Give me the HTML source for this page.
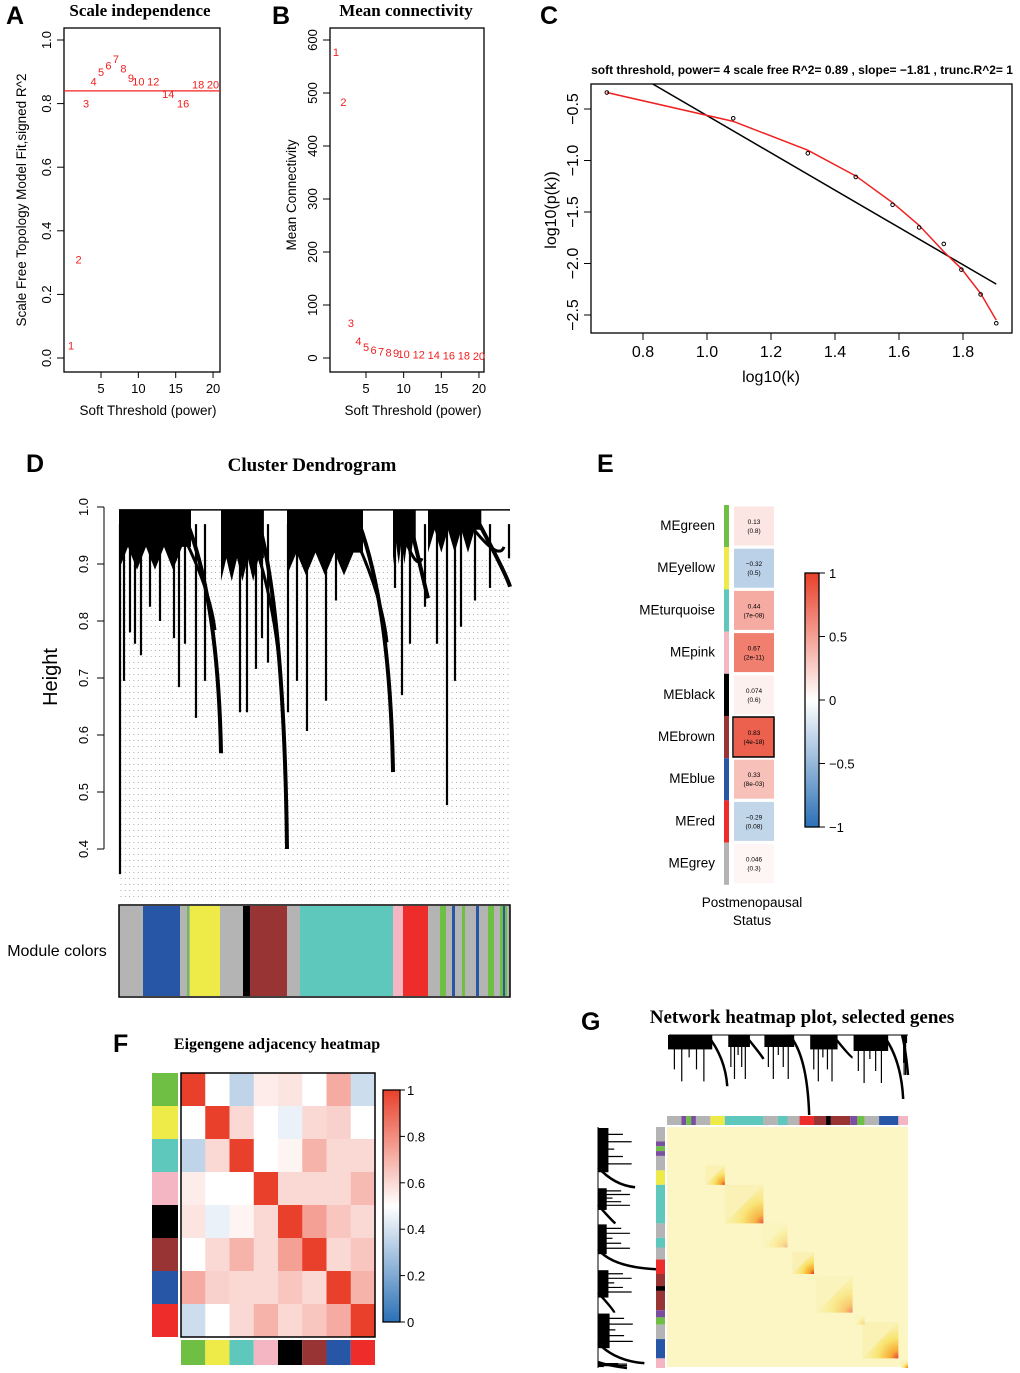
<!DOCTYPE html>
<html><head><meta charset="utf-8">
<style>
html,body{margin:0;padding:0;background:#fff;}
svg{display:block;font-family:"Liberation Sans",sans-serif;}
.ttl{font-family:"Liberation Serif",serif;font-weight:bold;}
.lt{font-weight:bold;font-size:25px;}
</style></head>
<body>
<svg id="fig" width="1020" height="1373" viewBox="0 0 1020 1373" xmlns="http://www.w3.org/2000/svg">
<defs>
<clipPath id="clipC"><rect x="591" y="84" width="421" height="249"/></clipPath>
<linearGradient id="gradE" x1="0" y1="0" x2="0" y2="1"><stop offset="0" stop-color="#e8402a"/><stop offset="0.5" stop-color="#ffffff"/><stop offset="1" stop-color="#2b70b6"/></linearGradient>
<linearGradient id="gradF" x1="0" y1="0" x2="0" y2="1"><stop offset="0" stop-color="#e8402a"/><stop offset="0.5" stop-color="#ffffff"/><stop offset="1" stop-color="#2b70b6"/></linearGradient>
<radialGradient id="gradG" cx="1" cy="1" r="1.1"><stop offset="0" stop-color="#e8201a"/><stop offset="0.2" stop-color="#f6a020"/><stop offset="0.5" stop-color="#f8e060"/><stop offset="1" stop-color="#fbf3b0" stop-opacity="0.3"/></radialGradient>
</defs>
<g id="root"></g>
</svg>
<script>
// ---- Panel A data ----
const aPowers=[1,2,3,4,5,6,7,8,9,10,12,14,16,18,20];
const aFit=[0.04,0.31,0.80,0.87,0.90,0.92,0.94,0.91,0.88,0.87,0.87,0.83,0.80,0.86,0.86];
const aCut=0.84;
const aYTicks=[0,0.2,0.4,0.6,0.8,1.0];
const aXTicks=[5,10,15,20];
// ---- Panel B data ----
const bConn=[577,483,66,32,21,15,12,10,9,8,7,6,5,5,4];
const bYTicks=[0,100,200,300,400,500,600];
// ---- Panel C data ----
const cLogK=[0.687,1.082,1.315,1.465,1.58,1.663,1.74,1.795,1.855,1.904];
const cLogP=[-0.34,-0.59,-0.93,-1.16,-1.43,-1.65,-1.81,-2.06,-2.30,-2.58];
const cFitRed=[-0.34,-0.62,-0.90,-1.15,-1.41,-1.63,-1.885,-2.05,-2.29,-2.55];
const cSlope=-1.81, cIntercept=1.246;
const cXTicks=[0.8,1.0,1.2,1.4,1.6,1.8];
const cYTicks=[-0.5,-1.0,-1.5,-2.0,-2.5];
// ---- Panel D data ----
const dYTicks=[0.4,0.5,0.6,0.7,0.8,0.9,1.0];
const dClusters=[[119,221,0.90,0.568],[221,287,0.88,0.40],[287,393,0.89,0.535],[393,428,0.91,0.84],[428,510,0.93,0.86]];
const dSpikes=[[120,0.356],[124,0.695],[130,0.78],[135,0.76],[141,0.74],[150,0.825],[160,0.80],[174,0.77],[179,0.684],[185,0.76],[196,0.63],[205,0.695],[240,0.64],[247,0.64],[256,0.716],[262,0.77],[268,0.727],[288,0.64],[297,0.695],[307,0.607],[326,0.66],[336,0.836],[395,0.858],[402,0.67],[410,0.76],[425,0.825],[437,0.76],[447,0.477],[455,0.695],[461,0.79],[475,0.836],[490,0.858],[509,0.91]];
const modCol={green:"#6fbf45",yellow:"#eeea48",turquoise:"#5ec8bd",pink:"#f4b6c2",black:"#000000",brown:"#983434",blue:"#2756a6",red:"#ee2d2a",grey:"#b4b4b4",purple:"#7b4fa0"};
const dColorSegs=[[119,143,"grey"],[143,180,"blue"],[180,190,"grey"],[187,189,"green"],[190,220,"yellow"],[220,243,"grey"],[243,250,"black"],[250,287,"brown"],[287,300,"grey"],[300,393,"turquoise"],[393,403,"pink"],[403,428,"red"],[428,510,"grey"],[440,446,"green"],[452,455,"blue"],[462,465,"green"],[476,479,"blue"],[488,494,"green"],[500,507,"green"],[503,505,"blue"]];
// ---- Panel E data ----
const eModules=["green","yellow","turquoise","pink","black","brown","blue","red","grey"];
const eCor=[0.13,-0.32,0.44,0.67,0.074,0.83,0.33,-0.29,0.046];
const eP=["(0.8)","(0.5)","(7e-08)","(2e-11)","(0.6)","(4e-18)","(8e-03)","(0.08)","(0.3)"];
const eTicks=[1,0.5,0,-0.5,-1];
// ---- Panel F data ----
const fModules=["green","yellow","turquoise","pink","black","brown","blue","red"];
const fAdj=[
[1,0.5,0.35,0.55,0.57,0.5,0.72,0.38],
[0.5,1,0.6,0.5,0.45,0.6,0.62,0.5],
[0.35,0.6,1,0.5,0.53,0.7,0.6,0.6],
[0.55,0.5,0.5,1,0.6,0.6,0.6,0.68],
[0.57,0.45,0.53,0.6,1,0.75,0.65,0.6],
[0.5,0.6,0.7,0.6,0.75,1,0.6,0.65],
[0.72,0.62,0.6,0.6,0.65,0.6,1,0.7],
[0.38,0.5,0.6,0.7,0.6,0.65,0.72,1]];
const fTicks=[1,0.8,0.6,0.4,0.2,0];
// ---- Panel G data ----
const gSegs=[[0,0.06,"grey"],[0.06,0.08,"purple"],[0.08,0.1,"green"],[0.1,0.12,"purple"],[0.12,0.18,"grey"],[0.18,0.24,"yellow"],[0.24,0.40,"turquoise"],[0.40,0.46,"grey"],[0.46,0.50,"turquoise"],[0.50,0.55,"grey"],[0.55,0.61,"red"],[0.61,0.66,"brown"],[0.66,0.68,"black"],[0.68,0.76,"brown"],[0.76,0.79,"purple"],[0.79,0.82,"green"],[0.82,0.88,"grey"],[0.88,0.96,"blue"],[0.96,1,"pink"]];
const gBlocks=[[0.16,0.24,0.9],[0.24,0.40,0.75],[0.40,0.50,0.3],[0.52,0.61,0.95],[0.62,0.77,0.5],[0.78,0.82,0.3],[0.81,0.96,0.85],[0.97,1.0,0.8]];
const gTopClusters=[[0,0.25,0.72,0.36],[0.25,0.40,0.75,0.7],[0.40,0.59,0.75,0.0],[0.59,0.77,0.72,0.72],[0.77,0.98,0.70,0.2],[0.98,1,0.8,0.5]];

const NS="http://www.w3.org/2000/svg";
const root=document.getElementById('root');
function el(tag,attrs,parent,text){const e=document.createElementNS(NS,tag);for(const k in attrs)e.setAttribute(k,attrs[k]);if(text!==undefined)e.textContent=text;(parent||root).appendChild(e);return e;}
function grp(name){const g=el('g',{});return g;}
function txt(g,x,y,s,size,opts){opts=opts||{};const a={x:x,y:y,'font-size':size,'text-anchor':opts.anchor||'middle',fill:opts.fill||'#000'};if(opts.rot!==undefined)a.transform='rotate('+opts.rot+' '+x+' '+y+')';if(opts.cls)a['class']=opts.cls;return el('text',a,g,s);}
function bwr(v){
  const r=[232,64,42],b=[43,112,182];const c=v>=0?r:b;const t=Math.min(1,Math.abs(v));
  const m=i=>Math.round(255+(c[i]-255)*t);return 'rgb('+m(0)+','+m(1)+','+m(2)+')';}

[["A",6,24],["B",272,24],["C",540,24],["D",26,472],["E",597,472],["F",113,1052],["G",581,1030]].forEach(p=>{
  const t=txt(root,p[1],p[2],p[0],25,{anchor:'start',cls:'lt'});
  });

// ---------- Panel A ----------
(function(){
  const g=grp('panel-a-scale-independence');
  const X=v=>101+(v-5)*7.47, Y=v=>358-v*318;
  el('rect',{x:64,y:28,width:156,height:344,fill:'none',stroke:'#000','stroke-width':1.3},g);
  txt(g,140,16,'Scale independence',17,{cls:'ttl'});
  aYTicks.forEach(t=>{el('line',{x1:57,y1:Y(t),x2:64,y2:Y(t),stroke:'#000'},g);txt(g,51,Y(t),t.toFixed(1),13,{rot:-90});});
  aXTicks.forEach(t=>{el('line',{x1:X(t),y1:372,x2:X(t),y2:378,stroke:'#000'},g);txt(g,X(t),393,String(t),13);});
  txt(g,148,415,'Soft Threshold (power)',13.5);
  txt(g,26,200,'Scale Free Topology Model Fit,signed R^2',13.5,{rot:-90});
  el('line',{x1:64,y1:Y(aCut),x2:220,y2:Y(aCut),stroke:'#f02020','stroke-width':1.3},g);
  aPowers.forEach((p,i)=>{const t=txt(g,X(p),Y(aFit[i])+4,String(p),11,{fill:'#f02020'});
    });
})();

// ---------- Panel B ----------
(function(){
  const g=grp('panel-b-mean-connectivity');
  const X=v=>366+(v-5)*7.53, Y=v=>358-v*0.53;
  el('rect',{x:330,y:28,width:154,height:344,fill:'none',stroke:'#000','stroke-width':1.3},g);
  txt(g,406,16,'Mean connectivity',17,{cls:'ttl'});
  bYTicks.forEach(t=>{el('line',{x1:323,y1:Y(t),x2:330,y2:Y(t),stroke:'#000'},g);txt(g,317,Y(t),String(t),13,{rot:-90});});
  aXTicks.forEach(t=>{el('line',{x1:X(t),y1:372,x2:X(t),y2:378,stroke:'#000'},g);txt(g,X(t),393,String(t),13);});
  txt(g,413,415,'Soft Threshold (power)',13.5);
  txt(g,296,195,'Mean Connectivity',13.5,{rot:-90});
  aPowers.forEach((p,i)=>{const t=txt(g,X(p),Y(bConn[i])+4,String(p),11,{fill:'#f02020'});
    });
})();

// ---------- Panel C ----------
(function(){
  const g=grp('panel-c-scale-free-fit');
  const X=v=>643+(v-0.8)*320, Y=v=>109-(v+0.5)*103;
  const tt=txt(g,802,74,'soft threshold, power= 4  scale free R^2= 0.89 , slope= \u22121.81 , trunc.R^2= 1',12);
  tt.setAttribute('font-weight','bold');
  el('rect',{x:591,y:84,width:421,height:249,fill:'none',stroke:'#000','stroke-width':1.3},g);
  cXTicks.forEach(t=>{el('line',{x1:X(t),y1:333,x2:X(t),y2:340,stroke:'#000'},g);txt(g,X(t),357,t.toFixed(1),16);});
  cYTicks.forEach(t=>{el('line',{x1:584,y1:Y(t),x2:591,y2:Y(t),stroke:'#000'},g);txt(g,578,Y(t),t.toFixed(1).replace('-','\u2212'),16,{rot:-90});});
  txt(g,771,382,'log10(k)',16);
  txt(g,556,210,'log10(p(k))',16,{rot:-90});
  const x0=0.6,x1=1.904;
  const bl=el('line',{x1:X(x0),y1:Y(cIntercept+cSlope*x0),x2:X(x1),y2:Y(cIntercept+cSlope*x1),stroke:'#000','stroke-width':1.5,'clip-path':'url(#clipC)'},g);
  
  const pl=el('polyline',{points:cLogK.map((k,i)=>X(k)+','+Y(cFitRed[i])).join(' '),fill:'none',stroke:'#f02020','stroke-width':1.5},g);
  
  cLogK.forEach((k,i)=>{const c=el('circle',{cx:X(k),cy:Y(cLogP[i]),r:1.8,fill:'none',stroke:'#000','stroke-width':1},g);
    });
})();

// ---------- Panel D ----------
(function(){
  const g=grp('panel-d-cluster-dendrogram');
  const Y=h=>507+(1-h)*570;
  txt(g,312,471,'Cluster Dendrogram',19,{cls:'ttl'});
  el('line',{x1:104,y1:Y(1),x2:104,y2:Y(0.4),stroke:'#000'},g);
  dYTicks.forEach(t=>{el('line',{x1:97,y1:Y(t),x2:104,y2:Y(t),stroke:'#000'},g);txt(g,88,Y(t),t.toFixed(1),13,{rot:-90});});
  txt(g,57,677,'Height',20,{rot:-90});
  for(let x=121;x<=509;x+=4.3){el('line',{x1:x,y1:560,x2:x,y2:900,stroke:'#999','stroke-width':0.8,'stroke-dasharray':'1 5'},g);}
  el('line',{x1:119,y1:Y(0.995),x2:510,y2:Y(0.995),stroke:'#000','stroke-width':1.5},g);
  dClusters.forEach(c=>{const [xa,xb,mh,th]=c;
    const w=xb-xa, xm=xb-Math.min(30,w*0.35);
    let d='M'+xa+','+Y(0.995)+' L'+xm+','+Y(0.995);
    const n=8;
    for(let k=n;k>=0;k--){const xx=xa+(xm-xa)*k/n;const hh=mh+((k%2)?0.03:-0.01)+(k===n?0.04:0);d+=' L'+xx+','+Y(hh);}
    d+=' Z';
    const p=el('path',{d:d,fill:'#000'},g);
    const tail=el('path',{d:'M'+(xm-8)+','+Y(0.99)+' Q'+(xb-3)+','+Y(Math.max(th,mh-0.05))+' '+xb+','+Y(th),fill:'none',stroke:'#000','stroke-width':4},g);
    
    el('path',{d:'M'+(xm-20)+','+Y(0.99)+' Q'+(xb-12)+','+Y(mh-0.03)+' '+(xb-6)+','+Y(Math.min(mh,(mh+th)/2+0.05)),fill:'none',stroke:'#000','stroke-width':3},g);
  });
  dSpikes.forEach(s=>{el('line',{x1:s[0],y1:Y(0.97),x2:s[0],y2:Y(s[1]),stroke:'#000','stroke-width':2.2},g);});
  const cb=grp('module-color-bar');g.appendChild(cb);
  dColorSegs.forEach(s=>{el('rect',{x:s[0],y:906,width:s[1]-s[0],height:90,fill:modCol[s[2]]},cb);});
  el('rect',{x:119,y:905,width:391,height:92,fill:'none',stroke:'#000','stroke-width':1.5},g);
  txt(g,57,956,'Module colors',16);
})();

// ---------- Panel E ----------
(function(){
  const g=grp('panel-e-module-trait');
  eModules.forEach((m,i)=>{const y0=505+i*42.2;
    el('rect',{x:724,y:y0,width:5,height:42.2,fill:modCol[m]},g);
    const c=el('rect',{x:734,y:y0+1.5,width:40,height:39,fill:bwr(eCor[i])},g);
    
    if(m==='brown')el('rect',{x:733,y:y0+1,width:41,height:40,fill:'none',stroke:'#000','stroke-width':1.5},g);
    txt(g,715,y0+25,'ME'+m,13.5,{anchor:'end'});
    txt(g,754,y0+19,String(eCor[i]).replace('-','\u2212'),6.5);
    txt(g,754,y0+28,eP[i],6.5);});
  el('rect',{x:805,y:573,width:14,height:254,fill:'url(#gradE)',stroke:'#000','stroke-width':1.3},g);
  eTicks.forEach((t,i)=>{const y=573+(1-t)/2*254;el('line',{x1:819,y1:y,x2:825,y2:y,stroke:'#000'},g);txt(g,829,y+5,String(t).replace('-','\u2212'),13,{anchor:'start'});});
  txt(g,752,907,'Postmenopausal',13.5);txt(g,752,925,'Status',13.5);
})();

// ---------- Panel F ----------
(function(){
  const g=grp('panel-f-eigengene-adjacency');
  txt(g,277,1049,'Eigengene adjacency heatmap',16,{cls:'ttl'});
  const x0=181,y0=1073,cw=194/8,ch=264/8;
  fAdj.forEach((row,r)=>row.forEach((v,c)=>{const cell=el('rect',{x:x0+c*cw,y:y0+r*ch,width:cw+0.3,height:ch+0.3,fill:bwr((v-0.5)*2)},g);
    }));
  el('rect',{x:x0,y:y0,width:194,height:264,fill:'none',stroke:'#000','stroke-width':1.5},g);
  fModules.forEach((m,i)=>{el('rect',{x:152,y:y0+i*ch,width:26,height:ch,fill:modCol[m]},g);
    el('rect',{x:x0+i*cw,y:1340,width:cw,height:25,fill:modCol[m]},g);});
  el('rect',{x:383,y:1090,width:17,height:232,fill:'url(#gradF)',stroke:'#000','stroke-width':1.3},g);
  fTicks.forEach(t=>{const y=1090+(1-t)*232;el('line',{x1:400,y1:y,x2:405,y2:y,stroke:'#000'},g);txt(g,407,y+5,String(t),13,{anchor:'start'});});
})();

// ---------- Panel G ----------
(function(){
  const g=grp('panel-g-network-heatmap');
  txt(g,802,1023,'Network heatmap plot, selected genes',19,{cls:'ttl'});
  const hx=667,hy=1127,S=241;
  el('rect',{x:hx,y:hy,width:S,height:S-1,fill:'#fbf6c4'},g);
  gBlocks.forEach(b=>{const a=hx+b[0]*S,z=hx+b[1]*S,ay=hy+b[0]*S,zy=hy+b[1]*S;
    el('rect',{x:a,y:ay,width:z-a,height:zy-ay,fill:'#f8eaa0',opacity:0.5*b[2]},g);
    const p=el('polygon',{points:a+','+zy+' '+z+','+ay+' '+z+','+zy,fill:'url(#gradG)',opacity:b[2]},g);
    });
  gSegs.forEach(s=>{el('rect',{x:hx+s[0]*S,y:1116,width:(s[1]-s[0])*S,height:9,fill:modCol[s[2]]},g);
    el('rect',{x:656,y:hy+s[0]*S,width:9,height:(s[1]-s[0])*S,fill:modCol[s[2]]},g);});
  const T0=1035,TH=80, L0=598, LW=58;
  el('line',{x1:hx+2,y1:T0,x2:hx+S,y2:T0,stroke:'#000'},g);
  el('line',{x1:L0,y1:hy,x2:L0,y2:hy+S,stroke:'#000'},g);
  gTopClusters.forEach(c=>{const [fa,fb,mh,th]=c;const xa=hx+fa*S,xb=hx+fb*S;
    const yt=h=>T0+(1-h)*TH, xl=h=>L0+(1-h)*LW, ya=hy+fa*S, yb=hy+fb*S;
    const span=xb-xa, cut=Math.min(16,span*0.4);
    el('rect',{x:xa+1,y:T0,width:span-cut,height:yt(mh+0.1)-T0,fill:'#000'},g);
    el('path',{d:'M'+(xb-cut-4)+','+T0+' Q'+(xb-2)+','+yt(mh)+' '+xb+','+yt(th),fill:'none',stroke:'#000','stroke-width':2.5},g);
    for(let k=1;k<6;k++){const xx=xa+(span-cut)*k/6;el('line',{x1:xx,y1:T0,x2:xx,y2:yt(mh-0.15*(k%3)),stroke:'#000','stroke-width':1.2},g);}
    el('rect',{x:L0,y:ya+1,width:xl(mh+0.1)-L0,height:span-cut,fill:'#000'},g);
    el('path',{d:'M'+L0+','+(yb-cut-4)+' Q'+xl(mh)+','+(yb-2)+' '+xl(th)+','+yb,fill:'none',stroke:'#000','stroke-width':2.5},g);
    for(let k=1;k<6;k++){const yy=ya+(span-cut)*k/6;el('line',{x1:L0,y1:yy,x2:xl(mh-0.15*(k%3)),y2:yy,stroke:'#000','stroke-width':1.2},g);}
  });
})();
</script>
</body></html>
